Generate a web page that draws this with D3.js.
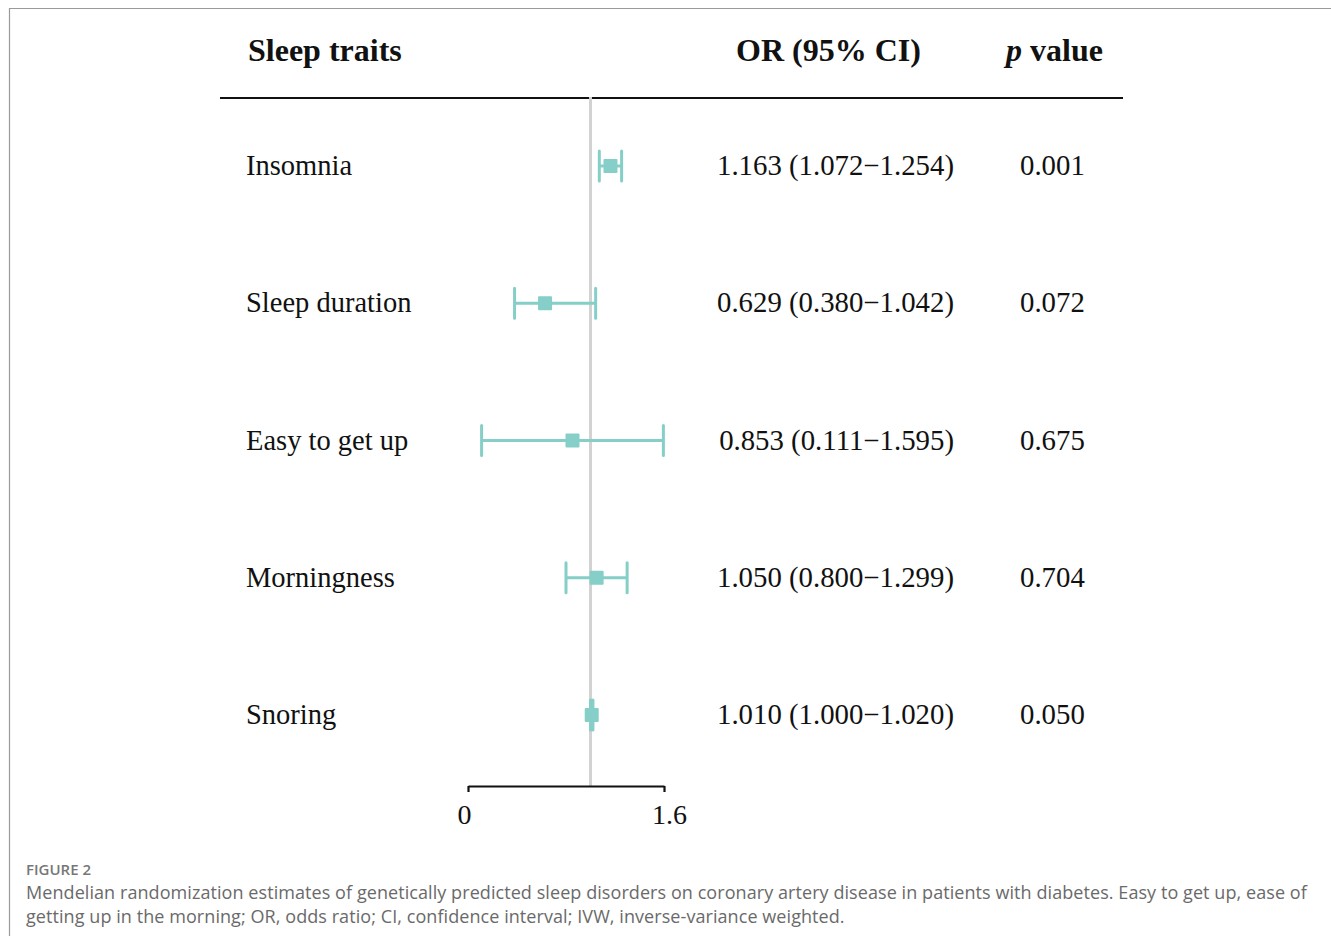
<!DOCTYPE html>
<html>
<head>
<meta charset="utf-8">
<script src="https://cdn.jsdelivr.net/npm/d3@7"></script>
<style>
  body { margin: 0; background: #fff; }
  svg { display: block; }
  .serif { font-family: "Liberation Serif", "Times New Roman", serif; fill: #111; }
  .cap { font-family: "Open Sans", "Noto Sans", sans-serif; fill: #6a6a6a; }
</style>
</head>
<body>
<svg id="chart" width="1331" height="936"></svg>
<script>
// data
const traits = ['Insomnia', 'Sleep duration', 'Easy to get up', 'Morningness', 'Snoring']
const or_vals = [1.163, 0.629, 0.853, 1.050, 1.010]
const ci_low = [1.072, 0.380, 0.111, 0.800, 1.000]
const ci_high = [1.254, 1.042, 1.595, 1.299, 1.020]
const p_vals = ['0.001', '0.072', '0.675', '0.704', '0.050']
const x_ticks = [0, 1.6]

const teal = '#86cec8'
const svg = d3.select('#chart')

// frame border
svg.append('path')
  .attr('d', 'M9.5,936 L9.5,8.5 L1331,8.5')
  .style('fill', 'none')
  .style('stroke', '#9a9a9a')
  .style('stroke-width', 1.2)

let x = d3.scaleLinear().domain([0, 1.6]).range([468, 664])
let y = d3.scalePoint().domain(traits).range([166, 715])

// header
let header = svg.append('g').attr('class', 'serif').style('font-weight', 'bold').style('font-size', '32px')
header.append('text').attr('x', 248).attr('y', 61).text('Sleep traits')
header.append('text').attr('x', 736).attr('y', 61).text('OR (95% CI)')
let ptxt = header.append('text').attr('x', 1006).attr('y', 61)
ptxt.append('tspan').style('font-style', 'italic').text('p')
ptxt.append('tspan').text(' value')

svg.append('line')
  .attr('x1', 220).attr('x2', 1123)
  .attr('y1', 98).attr('y2', 98)
  .style('stroke', '#111').style('stroke-width', 2.2)

// reference line at OR = 1
svg.append('line')
  .attr('x1', x(1)).attr('x2', x(1))
  .attr('y1', 97).attr('y2', 786)
  .style('stroke', '#d2d2d2').style('stroke-width', 3)

// x axis
let axis = svg.append('g')
  .attr('transform', 'translate(0,786)')
  .call(d3.axisBottom(x).tickValues(x_ticks).tickSize(6).tickSizeOuter(0).tickFormat(d => d === 0 ? '0' : d3.format('.1f')(d)))
axis.select('.domain').style('stroke', '#111').style('stroke-width', 2.2)
axis.selectAll('.tick line').style('stroke', '#111').style('stroke-width', 2.2)
axis.selectAll('.tick text')
  .attr('class', 'serif')
  .attr('y', 38)
  .attr('dy', 0)
  .attr('dx', d => d === 0 ? -4 : 5)
  .style('font-size', '28px')
  .style('fill', '#111')

// rows
let rows = svg.selectAll('g.row')
  .data(traits.map((t, i) => ({ t, or: or_vals[i], lo: ci_low[i], hi: ci_high[i], p: p_vals[i] })))
  .join('g')
  .attr('class', 'row')
  .attr('transform', d => `translate(0,${y(d.t)})`)

rows.append('text').attr('class', 'serif')
  .attr('x', 246).attr('y', 9)
  .style('font-size', '28.5px')
  .text(d => d.t)

rows.append('text').attr('class', 'serif')
  .attr('x', 954).attr('y', 9)
  .attr('text-anchor', 'end')
  .style('font-size', '28.8px')
  .text(d => `${d.or.toFixed(3)} (${d.lo.toFixed(3)}\u2212${d.hi.toFixed(3)})`)

rows.append('text').attr('class', 'serif')
  .attr('x', 1020).attr('y', 9)
  .style('font-size', '28.8px')
  .text(d => d.p)

// CI whiskers
rows.append('line')
  .attr('x1', d => x(d.lo)).attr('x2', d => x(d.hi))
  .attr('y1', 0).attr('y2', 0)
  .style('stroke', teal).style('stroke-width', 3)
rows.selectAll('line.cap')
  .data(d => [d.lo, d.hi])
  .join('line')
  .attr('class', 'cap')
  .attr('x1', d => x(d)).attr('x2', d => x(d))
  .attr('y1', -15).attr('y2', 15)
  .style('stroke', teal).style('stroke-width', 3)
  .style('stroke-linecap', 'round')
rows.append('rect')
  .attr('x', d => x(d.or) - 7).attr('y', -7)
  .attr('width', 14).attr('height', 14)
  .attr('rx', 1)
  .style('fill', teal)

// caption
let cap = svg.append('g').attr('class', 'cap')
cap.append('text').attr('x', 26).attr('y', 875)
  .style('font-size', '15px').style('font-weight', 600).style('fill', '#777')
  .text('FIGURE 2')
const caption_lines = [
  'Mendelian randomization estimates of genetically predicted sleep disorders on coronary artery disease in patients with diabetes. Easy to get up, ease of',
  'getting up in the morning; OR, odds ratio; CI, confidence interval; IVW, inverse-variance weighted.'
]
cap.selectAll('text.line')
  .data(caption_lines)
  .join('text')
  .attr('class', 'line')
  .attr('x', 26)
  .attr('y', (d, i) => 899 + i * 24)
  .style('font-size', '18px')
  .style('letter-spacing', '0.07px')
  .text(d => d)
</script>
</body>
</html>
